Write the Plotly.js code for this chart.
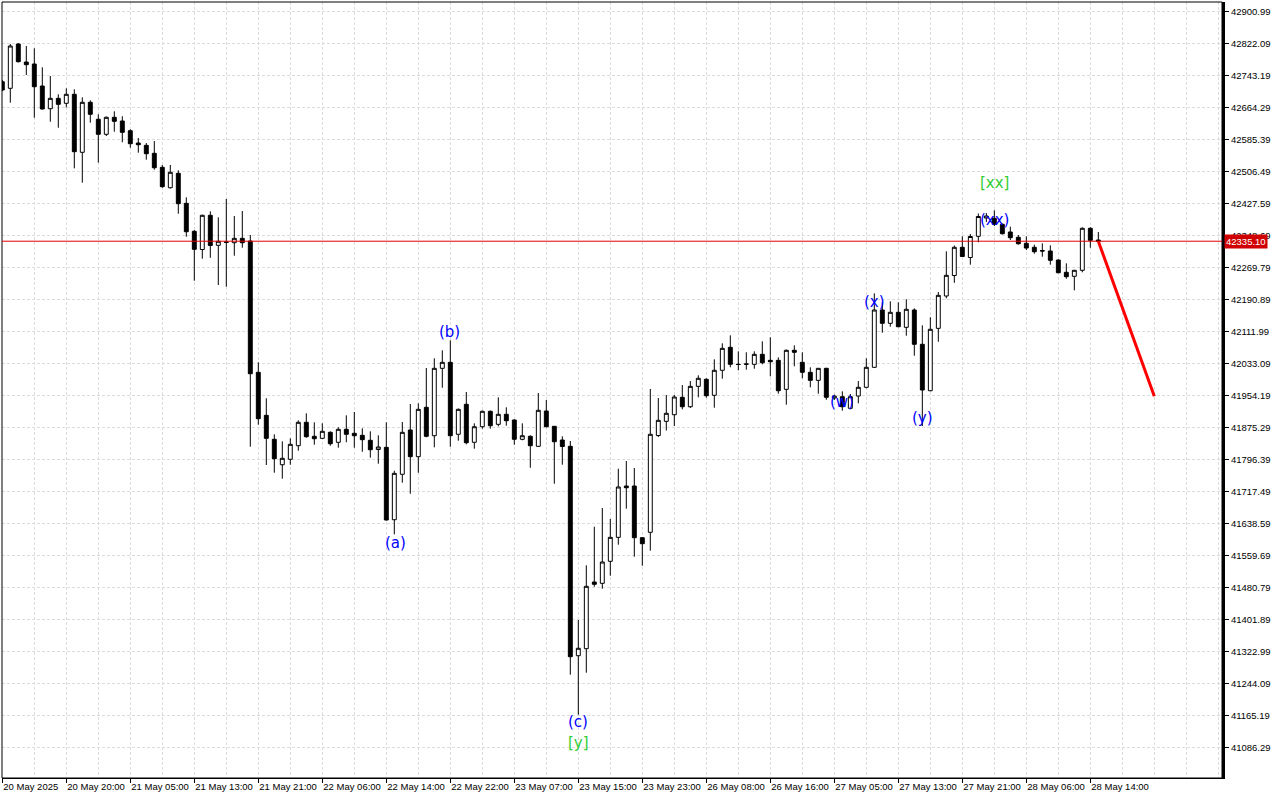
<!DOCTYPE html>
<html>
<head>
<meta charset="utf-8">
<script src="https://cdn.plot.ly/plotly-3.0.1.min.js"></script>
<style>
  html, body { margin: 0; padding: 0; background: #ffffff; }
  #chart { width: 1280px; height: 800px; }
</style>
</head>
<body>
<div id="chart"></div>
<script>
// Hourly candles, index 0 = 20 May 2025 12:00
const openPrices = [
42728.4, 42712.1, 42821.3, 42776.9, 42772.0, 42717.8, 42661.8, 42687.4, 42675.1, 42697.3,
42554.3, 42677.6, 42635.7, 42598.7, 42640.6, 42631.5, 42607.5, 42577.2, 42571.5, 42551.8,
42517.3, 42467.0, 42502.5, 42428.5, 42359.5, 42314.6, 42399.0, 42325.0, 42333.1, 42331.4,
42342.2, 42335.6, 42011.9, 41905.8, 41846.7, 41784.0, 41797.4, 41830.9, 41888.6, 41854.1,
41849.1, 41863.9, 41839.3, 41871.3, 41861.5, 41856.5, 41844.2, 41821.5, 41826.9, 41648.4,
41760.4, 41869.6, 41803.8, 41925.6, 41855.5, 42021.7, 42036.5, 41859.0, 41933.0, 41839.3,
41877.7, 41915.7, 41883.6, 41908.3, 41894.3, 41846.7, 41854.1, 41829.4, 41916.4, 41878.7,
41844.9, 41829.4, 41313.1, 41330.4, 41494.8, 41491.6, 41545.9, 41605.0, 41731.5, 41731.5,
41604.1, 41617.4, 41856.0, 41891.0, 41907.3, 41950.2, 41927.0, 41977.3, 41994.6, 41955.2,
42016.8, 42073.5, 42031.6, 42031.6, 42031.6, 42056.2, 42041.4, 42041.4, 41969.9, 42066.1,
42036.5, 42011.9, 41992.1, 42021.7, 41948.5, 41951.7, 41923.1, 41953.4, 41974.9, 42024.2,
42165.5, 42132.7, 42159.8, 42122.8, 42165.5, 42080.9, 41966.5, 42120.3, 42200.0, 42250.5,
42320.1, 42294.9, 42347.2, 42392.3, 42391.6, 42376.8, 42357.8, 42344.7, 42329.9, 42320.1,
42312.2, 42310.9, 42288.7, 42258.4, 42248.6, 42263.4, 42366.9, 42338.1
];
const highPrices = [
42732.6, 42821.3, 42823.8, 42816.4, 42810.7, 42763.9, 42742.4, 42697.3, 42712.1, 42709.6,
42689.9, 42682.5, 42648.0, 42642.6, 42655.4, 42643.1, 42611.0, 42589.5, 42577.2, 42582.1,
42523.0, 42523.0, 42509.9, 42443.3, 42362.7, 42400.5, 42408.8, 42394.0, 42439.2, 42397.2,
42409.6, 42350.4, 42036.5, 41947.8, 41859.0, 41841.7, 41849.1, 41893.5, 41910.8, 41888.6,
41886.1, 41866.4, 41876.3, 41905.8, 41914.0, 41873.8, 41866.4, 41856.5, 41888.6, 41769.2,
41889.3, 41933.7, 41935.4, 42022.5, 42046.4, 42066.1, 42090.8, 41922.6, 41963.3, 41886.1,
41917.7, 41917.7, 41950.2, 41925.6, 41895.5, 41886.1, 41856.5, 41960.8, 41943.6, 41879.5,
41854.1, 41842.5, 41401.1, 41536.0, 41631.2, 41677.3, 41650.2, 41774.2, 41793.2, 41775.9,
41605.8, 41970.7, 41948.5, 41955.9, 41955.9, 41980.5, 41990.4, 42004.5, 41997.1, 42043.9,
42083.4, 42103.1, 42063.6, 42061.2, 42063.6, 42088.3, 42098.2, 42048.8, 42068.1, 42078.4,
42061.2, 42024.2, 42022.5, 42023.0, 41956.6, 41965.0, 41958.4, 41990.4, 42046.4, 42206.6,
42185.2, 42186.9, 42184.5, 42191.9, 42169.7, 42127.7, 42147.5, 42209.8, 42310.2, 42324.5,
42347.2, 42352.9, 42403.4, 42404.6, 42411.3, 42378.7, 42370.9, 42350.4, 42347.2, 42326.5,
42329.9, 42325.0, 42290.0, 42280.6, 42264.5, 42369.4, 42369.4, 42357.8
];
const lowPrices = [
42705.4, 42676.6, 42775.7, 42744.9, 42639.6, 42659.8, 42629.7, 42614.9, 42665.2, 42514.8,
42479.3, 42627.3, 42528.7, 42594.5, 42605.1, 42579.0, 42565.6, 42553.3, 42536.0, 42511.4,
42467.0, 42465.0, 42402.9, 42346.2, 42237.7, 42292.0, 42294.2, 42227.1, 42222.9, 42299.4,
42319.1, 41828.4, 41882.7, 41783.3, 41764.3, 41749.5, 41784.0, 41818.6, 41850.6, 41833.3,
41847.4, 41830.9, 41826.0, 41839.3, 41826.0, 41816.1, 41801.3, 41786.5, 41646.5, 41612.4,
41739.7, 41712.5, 41764.3, 41851.6, 41826.9, 41973.9, 41828.4, 41843.2, 41834.3, 41823.5,
41872.8, 41872.8, 41878.7, 41880.2, 41833.3, 41844.2, 41776.6, 41828.2, 41876.3, 41737.2,
41784.0, 41266.3, 41167.6, 41271.2, 41483.2, 41478.3, 41510.4, 41586.8, 41675.6, 41557.2,
41535.0, 41572.0, 41852.3, 41868.4, 41879.5, 41920.6, 41923.8, 41950.2, 41949.2, 41924.6,
41996.1, 42024.2, 42016.8, 42018.3, 42020.7, 42031.6, 42002.0, 41959.1, 41932.0, 42026.7,
41997.1, 41974.9, 41959.1, 41944.1, 41943.6, 41917.2, 41921.4, 41935.4, 41972.4, 42022.5,
42109.5, 42124.3, 42123.0, 42102.1, 42052.8, 41879.5, 41965.0, 42087.3, 42194.3, 42232.5,
42296.9, 42277.2, 42332.4, 42382.4, 42372.6, 42351.6, 42338.1, 42326.5, 42313.4, 42304.3,
42296.9, 42277.2, 42256.0, 42242.6, 42214.0, 42258.4, 42319.1, 42335.1
];
const closePrices = [
42707.9, 42816.4, 42777.7, 42770.3, 42716.0, 42661.1, 42687.4, 42672.6, 42697.3, 42555.8,
42677.6, 42648.0, 42598.7, 42640.6, 42630.7, 42603.6, 42575.5, 42573.0, 42550.8, 42516.3,
42469.5, 42505.0, 42427.6, 42358.5, 42315.1, 42399.0, 42324.5, 42334.9, 42332.4, 42342.2,
42331.4, 42008.4, 41897.5, 41849.1, 41798.8, 41799.8, 41834.3, 41888.6, 41853.1, 41848.1,
41866.4, 41835.8, 41871.3, 41859.0, 41855.5, 41845.7, 41821.0, 41827.7, 41647.7, 41762.8,
41863.9, 41803.8, 41920.6, 41854.1, 42021.7, 42036.5, 41855.5, 41920.6, 41838.3, 41877.7,
41915.7, 41880.2, 41908.3, 41892.5, 41846.7, 41855.5, 41830.9, 41918.2, 41877.7, 41840.7,
41828.9, 41310.6, 41331.4, 41484.2, 41489.2, 41544.1, 41605.0, 41729.1, 41727.3, 41604.1,
41589.3, 41859.0, 41893.5, 41910.8, 41951.0, 41927.0, 41977.3, 41997.1, 41954.2, 42016.8,
42071.0, 42031.6, 42031.1, 42032.3, 42056.2, 42035.5, 42038.0, 41966.5, 42066.1, 42061.2,
42011.9, 41992.1, 42021.7, 41950.2, 41953.4, 41927.0, 41951.7, 41974.9, 42024.2, 42165.5,
42132.7, 42159.8, 42124.3, 42167.2, 42080.9, 41968.2, 42117.9, 42201.7, 42251.0, 42320.1,
42297.4, 42346.7, 42396.0, 42397.2, 42376.8, 42353.6, 42343.7, 42328.9, 42318.3, 42309.2,
42310.9, 42288.0, 42257.4, 42247.6, 42263.4, 42366.9, 42337.3, 42335.1
];

// X tick labels (every 8 candles)
const xTickIndex = [0, 8, 16, 24, 32, 40, 48, 56, 64, 72, 80, 88, 96, 104, 112, 120, 128, 136];
const xTickLabels = [
  "20 May 2025", "20 May 20:00", "21 May 05:00", "21 May 13:00", "21 May 21:00",
  "22 May 06:00", "22 May 14:00", "22 May 22:00", "23 May 07:00", "23 May 15:00",
  "23 May 23:00", "26 May 08:00", "26 May 16:00", "27 May 05:00", "27 May 13:00",
  "27 May 21:00", "28 May 06:00", "28 May 14:00"
];

// Y ticks
const yTickValues = [
  41086.29, 41165.19, 41244.09, 41322.99, 41401.89, 41480.79, 41559.69, 41638.59,
  41717.49, 41796.39, 41875.29, 41954.19, 42033.09, 42111.99, 42190.89, 42269.79,
  42348.69, 42427.59, 42506.49, 42585.39, 42664.29, 42743.19, 42822.09, 42900.99
];

// Current price and forecast
const lastPrice = 42335.10;
const forecastX = [137, 144];
const forecastY = [42335.10, 41953.0];

// Wave labels
const waveText  = ["(a)", "(b)", "(c)", "[y]", "(w)", "(x)", "(y)", "[xx]", "(xx)"];
const waveX     = [49.1, 55.9, 72.0, 72.0, 105.0, 109.0, 115.0, 124.0, 124.0];
const waveY     = [41591.0, 42110.5, 41150.4, 41097.1, 41939.4, 42184.4, 41899.9, 42479.3, 42387.4];
const waveColor = ["#0000ff", "#0000ff", "#0000ff", "#32cd32", "#0000ff", "#0000ff", "#0000ff", "#32cd32", "#0000ff"];

const idx = openPrices.map((_, i) => i);

const candles = {
  type: "candlestick",
  x: idx,
  open: openPrices,
  high: highPrices,
  low: lowPrices,
  close: closePrices,
  increasing: { line: { color: "#000000", width: 1 }, fillcolor: "#ffffff" },
  decreasing: { line: { color: "#000000", width: 1 }, fillcolor: "#000000" },
  whiskerwidth: 0,
  hoverinfo: "skip",
  showlegend: false
};

const forecast = {
  type: "scatter",
  mode: "lines",
  x: forecastX,
  y: forecastY,
  line: { color: "#ff0000", width: 3 },
  hoverinfo: "skip",
  showlegend: false
};

const gridColor = "#dcdcdc";
const tickFont = { family: "Liberation Sans, Arial, sans-serif", size: 9.5, color: "#000000" };

const annotations = waveText.map((t, i) => ({
  x: waveX[i], y: waveY[i], xref: "x", yref: "y",
  text: t, showarrow: false, xanchor: "center", yanchor: "middle",
  font: { family: "DejaVu Sans, sans-serif", size: 15, color: waveColor[i] }
}));

annotations.push({
  x: 1, xref: "paper", y: lastPrice, yref: "y",
  text: lastPrice.toFixed(2), showarrow: false,
  xanchor: "left", yanchor: "middle", xshift: 2,
  bgcolor: "#d00000", borderpad: 1,
  font: { family: "Liberation Sans, Arial, sans-serif", size: 9.5, color: "#ffffff" }
});

const layout = {
  width: 1280,
  height: 800,
  margin: { l: 2, r: 58, t: 2, b: 22, pad: 0 },
  paper_bgcolor: "#ffffff",
  plot_bgcolor: "#ffffff",
  showlegend: false,
  dragmode: false,
  xaxis: {
    range: [-0.0375, 152.46],
    rangeslider: { visible: false },
    tickmode: "array",
    tickvals: xTickIndex,
    ticktext: xTickLabels,
    tickangle: 0,
    ticks: "outside",
    ticklen: 4,
    tickcolor: "#000000",
    ticklabelposition: "outside right",
    tickfont: tickFont,
    showgrid: true,
    gridcolor: gridColor,
    griddash: "3px,2px",
    gridwidth: 1,
    minor: { tickmode: "linear", tick0: 0, dtick: 4, showgrid: true, gridcolor: gridColor, griddash: "3px,2px", ticks: "" },
    showline: true,
    linecolor: "#000000",
    linewidth: 1,
    zeroline: false,
    fixedrange: true,
    automargin: false
  },
  yaxis: {
    side: "right",
    range: [41011.6, 42924.9],
    tickmode: "array",
    tickvals: yTickValues,
    ticktext: yTickValues.map(v => v.toFixed(2)),
    ticks: "outside",
    ticklen: 4,
    tickcolor: "#000000",
    tickfont: tickFont,
    showgrid: true,
    gridcolor: gridColor,
    griddash: "3px,2px",
    gridwidth: 1,
    showline: true,
    linecolor: "#000000",
    linewidth: 3,
    zeroline: false,
    fixedrange: true,
    automargin: false
  },
  shapes: [
    { type: "rect", xref: "paper", yref: "paper", x0: 0, x1: 1, y0: 0, y1: 1,
      line: { color: "#000000", width: 1 }, fillcolor: "rgba(0,0,0,0)", layer: "above" },
    { type: "line", xref: "paper", yref: "y", x0: 0, x1: 1, y0: lastPrice, y1: lastPrice,
      line: { color: "#e00000", width: 1 }, layer: "above" }
  ],
  annotations: annotations
};

Plotly.newPlot("chart", [candles, forecast], layout, { displayModeBar: false, staticPlot: true });
</script>
</body>
</html>
